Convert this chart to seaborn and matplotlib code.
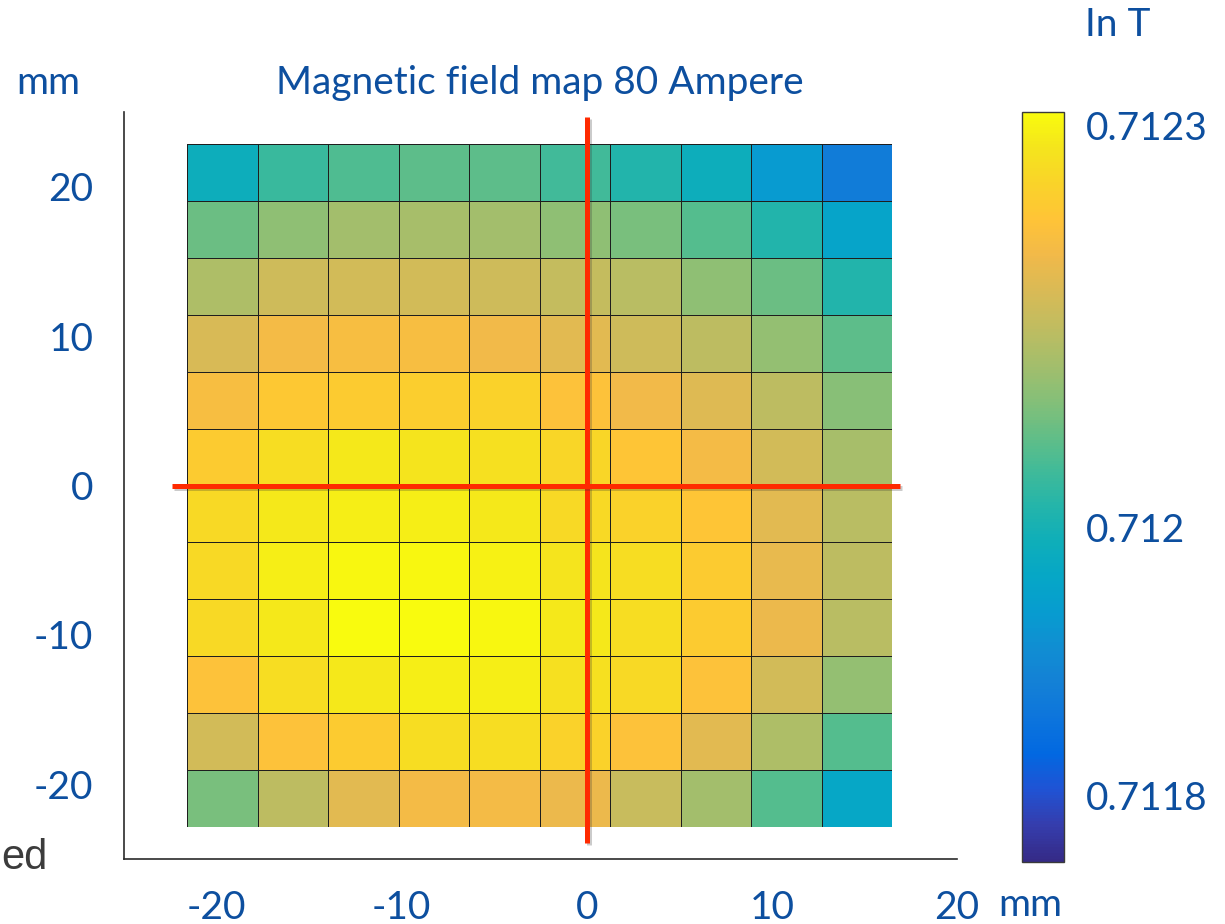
import numpy as np
import pandas as pd
import matplotlib
matplotlib.use("Agg")
import matplotlib.pyplot as plt
import matplotlib.patheffects as pe
from matplotlib.colors import LinearSegmentedColormap
import seaborn as sns

# ---- measurement grid (cell centres, mm) and field values (T) ----
x_centers_mm = [-19.685, -15.875, -12.065, -8.255, -4.445, -0.635, 3.175, 6.985, 10.795, 14.605]
y_centers_mm = [20.955, 17.145, 13.335, 9.525, 5.715, 1.905,
                -1.905, -5.715, -9.525, -13.335, -17.145, -20.955]
cell_mm = 3.81

field_T = [
    [0.711985, 0.712036, 0.712052, 0.712064, 0.712064, 0.712041, 0.712013, 0.711985, 0.711935, 0.711873],
    [0.712075, 0.712103, 0.712120, 0.712125, 0.712120, 0.712103, 0.712086, 0.712058, 0.712013, 0.711957],
    [0.712131, 0.712164, 0.712170, 0.712170, 0.712164, 0.712153, 0.712142, 0.712103, 0.712075, 0.712013],
    [0.712176, 0.712209, 0.712215, 0.712215, 0.712204, 0.712187, 0.712164, 0.712148, 0.712108, 0.712064],
    [0.712215, 0.712237, 0.712243, 0.712248, 0.712254, 0.712226, 0.712204, 0.712181, 0.712148, 0.712097],
    [0.712243, 0.712271, 0.712288, 0.712282, 0.712276, 0.712260, 0.712232, 0.712209, 0.712170, 0.712125],
    [0.712265, 0.712288, 0.712293, 0.712293, 0.712288, 0.712265, 0.712254, 0.712232, 0.712187, 0.712142],
    [0.712265, 0.712293, 0.712304, 0.712304, 0.712299, 0.712282, 0.712271, 0.712243, 0.712192, 0.712148],
    [0.712265, 0.712288, 0.712310, 0.712310, 0.712304, 0.712288, 0.712271, 0.712243, 0.712198, 0.712142],
    [0.712226, 0.712271, 0.712288, 0.712293, 0.712293, 0.712276, 0.712265, 0.712226, 0.712170, 0.712108],
    [0.712170, 0.712226, 0.712243, 0.712271, 0.712271, 0.712254, 0.712226, 0.712187, 0.712131, 0.712058],
    [0.712086, 0.712148, 0.712187, 0.712209, 0.712209, 0.712198, 0.712159, 0.712120, 0.712058, 0.711963],
]

x_ticks = [-20, -10, 0, 10, 20]
y_ticks = [-20, -10, 0, 10, 20]
color_limits = (0.71175, 0.71231)
cbar_ticks = [0.7118, 0.7119, 0.7120, 0.7121, 0.7122, 0.7123]
cbar_labels = ["0.7118", "", "0.712", "", "", "0.7123"]

# crosshair through the magnet centre
origin_mm = 0.0
vline_span = (-23.9, 24.65)
hline_span = (-22.4, 16.9)

title = "Magnetic field map 80 Ampere"

# ---- parula-like colormap ----
parula_anchors = [
    (0.2081, 0.1663, 0.5292), (0.2081, 0.2386, 0.6771), (0.1253, 0.3242, 0.8303),
    (0.0060, 0.4086, 0.8828), (0.0498, 0.4586, 0.8641), (0.0779, 0.5040, 0.8384),
    (0.0641, 0.5570, 0.8240), (0.0265, 0.6137, 0.8135), (0.0228, 0.6535, 0.7768),
    (0.0590, 0.6838, 0.7254), (0.1453, 0.7098, 0.6646), (0.2586, 0.7317, 0.5954),
    (0.3953, 0.7459, 0.5244), (0.5300, 0.7491, 0.4661), (0.6473, 0.7456, 0.4188),
    (0.7525, 0.7384, 0.3768), (0.8507, 0.7299, 0.3360), (0.9450, 0.7261, 0.2886),
    (0.9990, 0.7653, 0.2164), (0.9789, 0.8271, 0.1633), (0.9589, 0.8949, 0.1132),
    (0.9763, 0.9831, 0.0538),
]
parula = LinearSegmentedColormap.from_list("parula", parula_anchors, N=256)

# ---- style ----
sns.set_style("white")
plt.rcParams["font.family"] = ["Lato", "DejaVu Sans"]
plt.rcParams["axes.unicode_minus"] = False
text_blue = "#0D4F9F"
fs = 28

fig = plt.figure(figsize=(12.25, 9.24), dpi=100)
W, H = 1225, 924
ax = fig.add_axes([124 / W, (H - 859) / H, 833 / W, 747 / H])
cax = fig.add_axes([1022 / W, (H - 862) / H, 42 / W, 750 / H])

ax.set_xlim(-25, 20)
ax.set_ylim(-25, 25)

# heatmap placed on the mm grid through an inset axes in data coordinates
x0 = min(x_centers_mm) - cell_mm / 2
y0 = min(y_centers_mm) - cell_mm / 2
hax = ax.inset_axes([x0, y0, len(x_centers_mm) * cell_mm, len(y_centers_mm) * cell_mm],
                    transform=ax.transData)
df = pd.DataFrame(field_T, index=y_centers_mm, columns=x_centers_mm)
sns.heatmap(df, ax=hax, cmap=parula, vmin=color_limits[0], vmax=color_limits[1],
            linewidths=0.6, linecolor="#1e1e1e", cbar_ax=cax)
hax.set_axis_off()

# crosshair
shadow = [pe.SimpleLineShadow(offset=(1.5, -1.5), alpha=0.25, shadow_color="#333333"), pe.Normal()]
ax.plot([origin_mm, origin_mm], vline_span, color="#FF2A00", lw=3.6,
        solid_capstyle="butt", zorder=10, path_effects=shadow)
ax.plot(hline_span, [origin_mm, origin_mm], color="#FF2A00", lw=3.6,
        solid_capstyle="butt", zorder=10, path_effects=shadow)

# axes styling
for side in ("top", "right"):
    ax.spines[side].set_visible(False)
for side in ("left", "bottom"):
    ax.spines[side].set_color("#2b2b2b")
    ax.spines[side].set_linewidth(1.2)
ax.set_xticks(x_ticks)
ax.set_yticks(y_ticks)
ax.tick_params(axis="both", direction="in", length=6, width=1, color="#808080",
               labelsize=fs, labelcolor=text_blue)
ax.tick_params(axis="x", pad=22)
ax.tick_params(axis="y", pad=22)

# colorbar
cbar = hax.collections[0].colorbar
cbar.set_ticks(cbar_ticks, labels=cbar_labels)
cbar.outline.set_edgecolor("#3a3a3a")
cbar.outline.set_linewidth(1.0)
cax.tick_params(direction="in", length=6, width=1, color="#2b2b2b",
                labelsize=fs, labelcolor=text_blue, pad=16)

# annotations
fig.text(539.5 / W, 1 - 83 / H, title, ha="center", va="center", fontsize=fs, color=text_blue)
fig.text(48 / W, 1 - 83 / H, "mm", ha="center", va="center", fontsize=fs, color=text_blue)
fig.text(1118 / W, 1 - 25 / H, "In T", ha="center", va="center", fontsize=fs, color=text_blue)
fig.text(1030 / W, 1 - 905 / H, "mm", ha="center", va="center", fontsize=fs, color=text_blue)
fig.text(1 / W, 1 - 858 / H, "ed", ha="left", va="center", fontsize=30, color="#3c3c3c",
         family=["Liberation Sans", "DejaVu Sans"])

fig.savefig("out.png", dpi=100)
